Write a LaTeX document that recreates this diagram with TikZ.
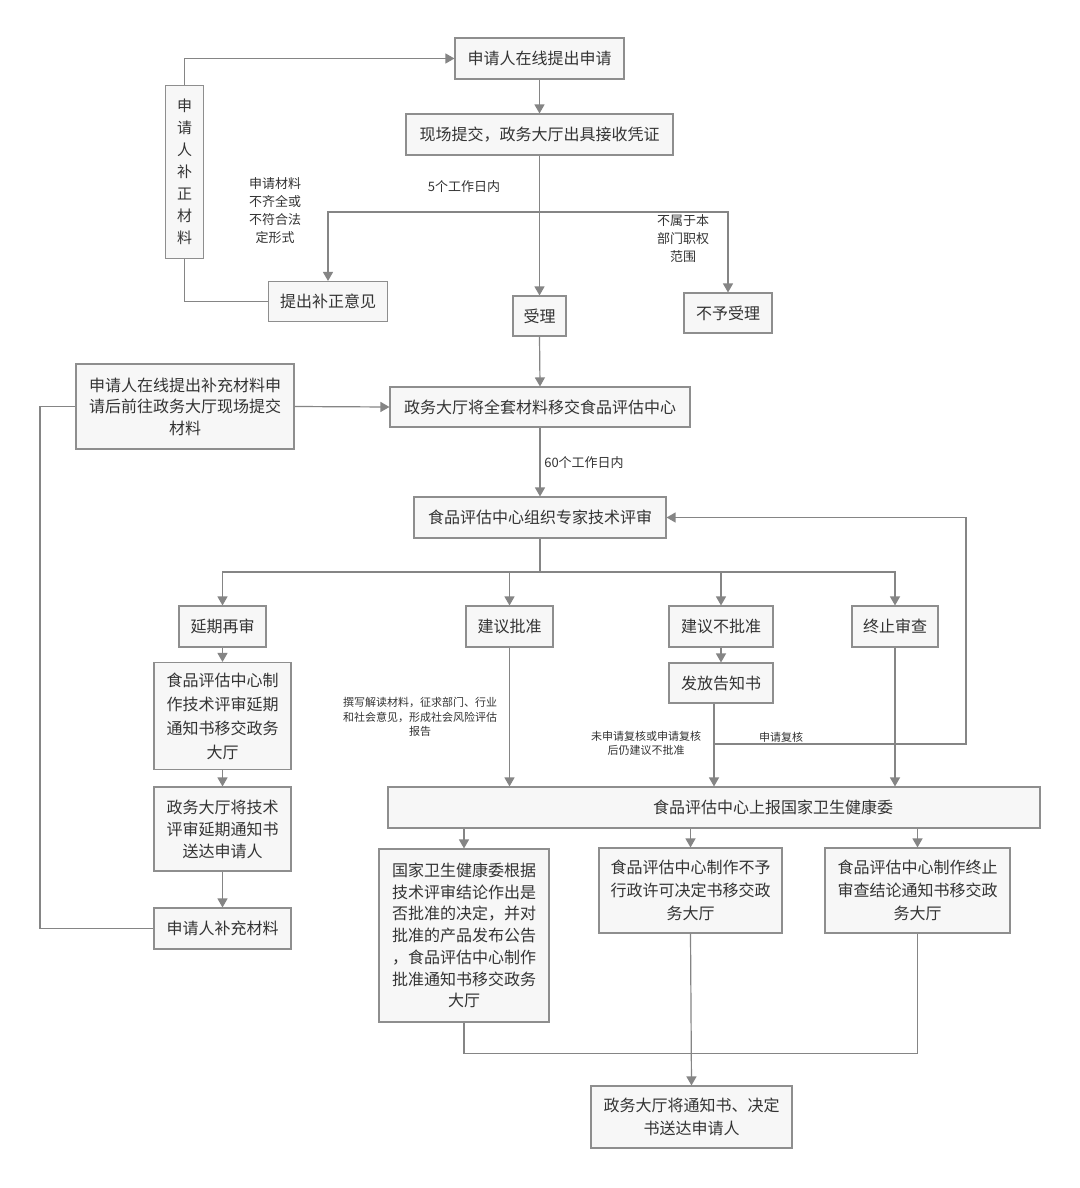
\documentclass[tikz,border=0pt]{standalone}
\usepackage{fontspec}
\setmainfont{Noto Sans CJK SC}
\usetikzlibrary{arrows.meta,calc}
\definecolor{boxfill}{HTML}{F7F7F7}
\definecolor{boxline}{HTML}{8E8E8E}
\definecolor{conn}{HTML}{858585}
\definecolor{txt}{HTML}{333333}
\begin{document}
\begin{tikzpicture}[x=1pt,y=-1pt,
 box/.style={draw=boxline, fill=boxfill, line width=1.1pt, inner sep=0pt, align=center, text=txt, font=\fontsize{16}{23}\selectfont},
 lbl/.style={inner sep=0pt, align=center, text=txt, font=\fontsize{13}{18}\selectfont},
 slbl/.style={inner sep=0pt, align=center, text=txt, font=\fontsize{11}{14.5}\selectfont},
 conline/.style={draw=conn, line width=1.2pt},
 arr/.style={conline, -{Triangle[length=9pt,width=10pt]}}]
\useasboundingbox (0,0) rectangle (1079,1188);
\fill[white] (0,0) rectangle (1079,1188);

% nodes
\node[box, minimum width=169pt, minimum height=41pt] (A) at (539.5,58.5) {申请人在线提出申请};
\node[box, minimum width=267pt, minimum height=41pt] (B) at (539.5,134.5) {现场提交，政务大厅出具接收凭证};
\node[box, minimum width=38pt, minimum height=173pt, font=\fontsize{15}{22}\selectfont] (V) at (184.5,172) {申\\请\\人\\补\\正\\材\\料};
\node[box, minimum width=119pt, minimum height=40pt] (C) at (328,301.5) {提出补正意见};
\node[box, minimum width=53pt, minimum height=40pt] (D) at (539.5,316) {受理};
\node[box, minimum width=88pt, minimum height=40pt] (E) at (728,313) {不予受理};
\node[box, minimum width=300pt, minimum height=40pt] (F) at (540,407) {政务大厅将全套材料移交食品评估中心};
\node[box, minimum width=218pt, minimum height=85pt, font=\fontsize{16}{21.5}\selectfont] (G) at (185,406.5) {申请人在线提出补充材料申\\请后前往政务大厅现场提交\\材料};
\node[box, minimum width=252pt, minimum height=41pt] (H) at (540,517.5) {食品评估中心组织专家技术评审};
\node[box, minimum width=87pt, minimum height=41pt] (I) at (222.5,626.5) {延期再审};
\node[box, minimum width=87pt, minimum height=41pt] (J) at (509.5,626.5) {建议批准};
\node[box, minimum width=104pt, minimum height=41pt] (K) at (721,626.5) {建议不批准};
\node[box, minimum width=86pt, minimum height=41pt] (L) at (895,626.5) {终止审查};
\node[box, minimum width=137pt, minimum height=107pt, font=\fontsize{16}{24}\selectfont] (M) at (222.5,716) {食品评估中心制\\作技术评审延期\\通知书移交政务\\大厅};
\node[box, minimum width=104pt, minimum height=40pt] (N) at (721,683) {发放告知书};
\node[box, minimum width=137pt, minimum height=84pt, font=\fontsize{16}{22}\selectfont] (O) at (222.5,829) {政务大厅将技术\\评审延期通知书\\送达申请人};
\node[box, minimum width=137pt, minimum height=41pt] (P) at (222.5,928.5) {申请人补充材料};
\node[box, minimum width=652pt, minimum height=41pt] (Q) at (714,807.5) {};
\node[inner sep=0pt, text=txt, font=\fontsize{16}{23}\selectfont] (Qt) at (773,807.5) {食品评估中心上报国家卫生健康委};
\node[box, minimum width=170pt, minimum height=173pt, font=\fontsize{16}{21.7}\selectfont] (R) at (464,935.5) {国家卫生健康委根据\\技术评审结论作出是\\否批准的决定，并对\\批准的产品发布公告\\，食品评估中心制作\\批准通知书移交政务\\大厅};
\node[box, minimum width=183pt, minimum height=85pt] (S) at (690.5,890.5) {食品评估中心制作不予\\行政许可决定书移交政\\务大厅};
\node[box, minimum width=185pt, minimum height=85pt] (T) at (917.5,890.5) {食品评估中心制作终止\\审查结论通知书移交政\\务大厅};
\node[box, minimum width=201pt, minimum height=62pt] (U) at (691.5,1117) {政务大厅将通知书、决定\\书送达申请人};

% coordinates
\coordinate (br1) at (539.5,212);
\coordinate (br2) at (540,572);
\coordinate (lp1) at (40,928.5);
\coordinate (lp2) at (40,406.5);
\coordinate (n1) at ($(N.south)+(-7,0)$);
\coordinate (rv1) at (714,744);
\coordinate (rv2) at (966,744);

% connectors
\draw[arr] (A.south) -- (B.north);
\draw[conline] (B.south) -- (br1);
\draw[arr] (br1) -| (C.north);
\draw[arr] (br1) -| (E.north);
\draw[arr] (br1) -- (D.north);
\draw[conline] (C.west) -| (V.south);
\draw[arr] (V.north) |- (A.west);
\draw[arr] (D.south) -- (F.north);
\draw[arr] (G.east) -- (F.west);
\draw[arr] (F.south) -- (H.north);
\draw[conline] (H.south) -- (br2);
\draw[arr] (br2) -| (I.north);
\draw[arr] (br2) -| (J.north);
\draw[arr] (br2) -| (K.north);
\draw[arr] (br2) -| (L.north);
\draw[arr] (I.south) -- (M.north);
\draw[arr] (M.south) -- (O.north);
\draw[arr] (O.south) -- (P.north);
\draw[conline] (P.west) -- (lp1) -- (lp2) -- (G.west);
\draw[arr] (K.south) -- (N.north);
\draw[arr] (J.south) -- (J.south |- Q.north);
\draw[arr] (n1) -- (n1 |- Q.north);
\draw[arr] (L.south) -- (L.south |- Q.north);
\draw[arr] (rv1) -- (rv2) |- (H.east);
\draw[arr] (Q.south -| R.north) -- (R.north);
\draw[arr] (Q.south -| S.north) -- (S.north);
\draw[arr] (Q.south -| T.north) -- (T.north);
\draw[conline] (R.south) -- ++(0,31) -| (T.south);
\draw[arr] (S.south) -- (U.north);

% labels
\node[lbl] (l1) at (464,187) {5个工作日内};
\node[lbl] (l2) at (275,211) {申请材料\\不齐全或\\不符合法\\定形式};
\node[lbl] (l3) at (683,239) {不属于本\\部门职权\\范围};
\node[lbl] (l4) at (584,463) {60个工作日内};
\node[slbl] (l5) at (420,717) {撰写解读材料，征求部门、行业\\和社会意见，形成社会风险评估\\报告};
\node[slbl] (l6) at (646,743.5) {未申请复核或申请复核\\后仍建议不批准};
\node[slbl] (l7) at (781,737) {申请复核};
\end{tikzpicture}
\end{document}
